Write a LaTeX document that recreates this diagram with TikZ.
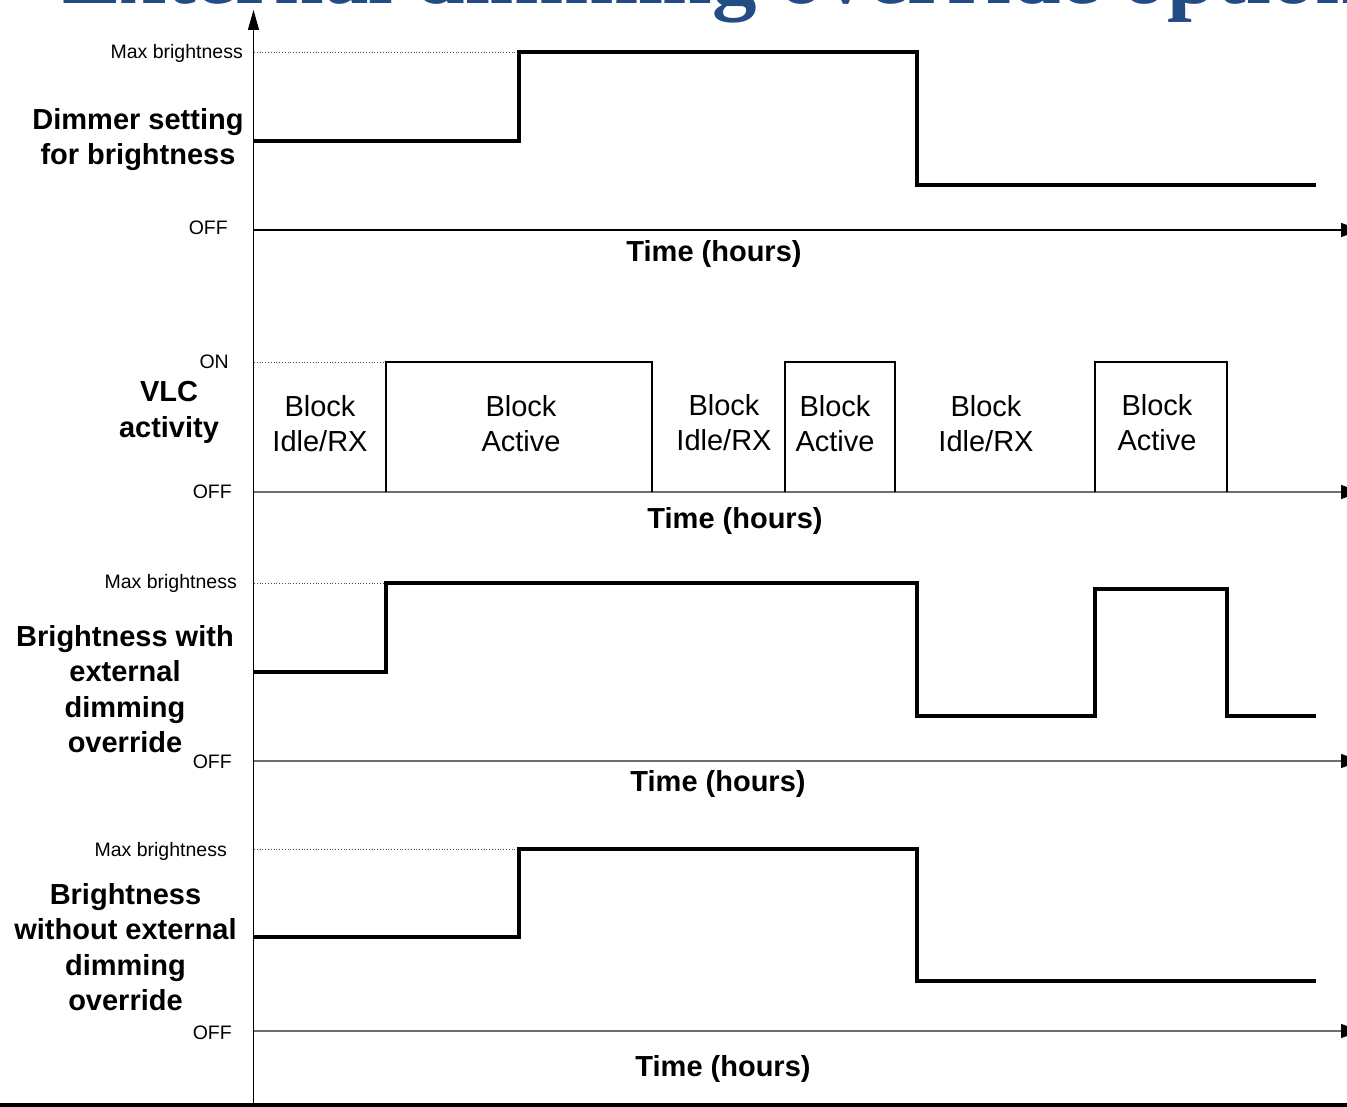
\documentclass[tikz,border=0pt]{standalone}
\usepackage{fontspec}
\setmainfont{Liberation Sans}
\newfontfamily\titlefont{Liberation Serif}
\usetikzlibrary{arrows.meta}
\definecolor{titleblue}{HTML}{244C84}
\definecolor{axisgray}{HTML}{6E6E6E}
\begin{document}
\begin{tikzpicture}[x=1pt,y=-1pt,
  small/.style={inner sep=0pt,font=\fontsize{19.5}{23}\selectfont},
  biglabel/.style={inner sep=0pt,align=center,font=\fontsize{29}{35.5}\selectfont\bfseries},
  blocklabel/.style={inner sep=0pt,align=center,font=\fontsize{29}{35}\selectfont},
  timelabel/.style={inner sep=0pt,font=\fontsize{29}{35}\selectfont\bfseries},
  signal/.style={line width=3.1pt,line join=miter},
  pulse/.style={line width=2.6pt,line join=miter},
  axisline/.style={line width=1.3pt,-{Triangle[length=20pt,width=14pt,color=black]}},
  vaxis/.style={line width=1.5pt,-{Triangle[length=20pt,width=11pt,color=black]}},
  maxline/.style={line width=0.8pt,dotted,black!70}]
\useasboundingbox (0,0) rectangle (1347,1107);
\begin{scope}
\clip (0,0) rectangle (1347,1107);
% title (cut off at top)
\node[anchor=base west,inner sep=0pt,text=titleblue,font=\fontsize{89}{89}\selectfont\titlefont\bfseries] (title) at (62,4) {External dimming override option};
% bottom bar
\fill (0,1103) rectangle (1347,1107);
% vertical axis
\draw[vaxis] (253.5,1104) -- (253.5,10);
% horizontal axes
\draw[axisline] (253.5,230) -- (1361,230);
\draw[axisline,draw=axisgray] (253.5,492) -- (1361,492);
\draw[axisline,draw=axisgray] (253.5,761) -- (1361,761);
\draw[axisline,draw=axisgray] (253.5,1031) -- (1361,1031);
% max / on dotted lines
\draw[maxline] (254,52) -- (519,52);
\draw[maxline] (254,362) -- (386,362);
\draw[maxline] (254,583) -- (386,583);
\draw[maxline] (254,849) -- (519,849);
% panel 1 signal
\draw[signal] (254,141) -- (519,141) -- (519,52) -- (917,52) -- (917,185) -- (1316,185);
% panel 2 pulses
\draw[pulse] (386,492) -- (386,362) -- (652,362) -- (652,492);
\draw[pulse] (785,492) -- (785,362) -- (895,362) -- (895,492);
\draw[pulse] (1095,492) -- (1095,362) -- (1227,362) -- (1227,492);
% panel 3 signal
\draw[signal] (254,672) -- (386,672) -- (386,583) -- (917,583) -- (917,716) -- (1095,716) -- (1095,589) -- (1227,589) -- (1227,716) -- (1316,716);
% panel 4 signal
\draw[signal] (254,937) -- (519,937) -- (519,849) -- (917,849) -- (917,981) -- (1316,981);
\end{scope}
% panel 1 labels
\node[small,anchor=east] (max1) at (243,53) {Max brightness};
\node[small,anchor=east] (off1) at (228,228) {OFF};
\node[biglabel] (lab1) at (138,139.5) {Dimmer setting\\for brightness};
\node[timelabel] (time1) at (714,254) {Time (hours)};
% panel 2 labels
\node[small,anchor=east] (on2) at (229,362) {ON};
\node[small,anchor=east] (off2) at (232,492) {OFF};
\node[biglabel,font=\fontsize{29}{36}\selectfont\bfseries] (lab2) at (169,412) {VLC\\activity};
\node[blocklabel] (b1) at (320,424) {Block\\Idle/RX};
\node[blocklabel] (b2) at (521,424) {Block\\Active};
\node[blocklabel] (b3) at (724,423) {Block\\Idle/RX};
\node[blocklabel] (b4) at (835,424) {Block\\Active};
\node[blocklabel] (b5) at (986,424) {Block\\Idle/RX};
\node[blocklabel] (b6) at (1157,423) {Block\\Active};
\node[timelabel] (time2) at (735,521) {Time (hours)};
% panel 3 labels
\node[small,anchor=east] (max3) at (237,583) {Max brightness};
\node[small,anchor=east] (off3) at (232,762) {OFF};
\node[biglabel] (lab3) at (125,689) {Brightness with\\external\\dimming\\override};
\node[timelabel] (time3) at (718,784) {Time (hours)};
% panel 4 labels
\node[small,anchor=east] (max4) at (227,851) {Max brightness};
\node[small,anchor=east] (off4) at (232,1033) {OFF};
\node[biglabel] (lab4) at (125.5,947) {Brightness\\without external\\dimming\\override};
\node[timelabel] (time4) at (723,1069) {Time (hours)};
\end{tikzpicture}
\end{document}
